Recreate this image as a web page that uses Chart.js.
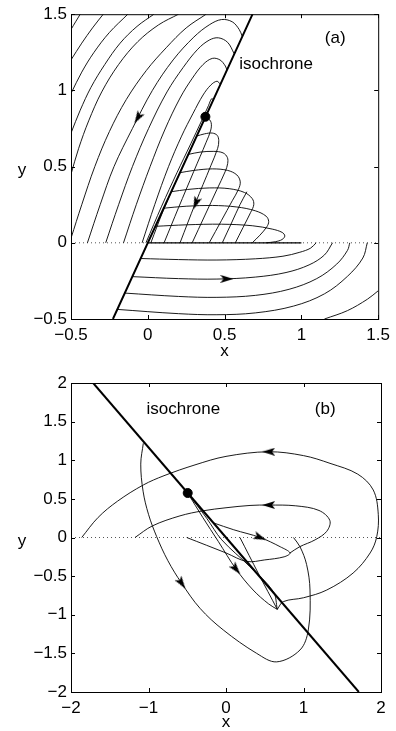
<!DOCTYPE html>
<html>
<head>
<meta charset="utf-8">
<script src="https://cdn.jsdelivr.net/npm/chart.js@4.4.0/dist/chart.umd.min.js"></script>
<style>
  html, body { margin: 0; padding: 0; background: #fff; }
  .wrap { position: absolute; left: 0; width: 396px; }
  #wrapA { top: 0; height: 365px; }
  #wrapB { top: 365px; height: 366px; }
</style>
</head>
<body>
<div class="wrap" id="wrapA"><canvas id="chartA"></canvas></div>
<div class="wrap" id="wrapB"><canvas id="chartB"></canvas></div>
<script>
// ---------- panel (a) ----------
const ticksAX = [-0.5, 0, 0.5, 1, 1.5];
const ticksAY = [-0.5, 0, 0.5, 1, 1.5];

const isoA = [[-0.227, -0.5], [0.682, 1.5]];
const dotA = [[0.375, 0.827]];
const zeroA = [[-0.5, 0], [1.5, 0]];
const slideA = [[0, 0], [1.0, 0]];

// left of the isochrone, above y = 0
const a_t1 = [[-0.5, 1.40], [-0.47, 1.45], [-0.44, 1.5]];
const a_t2 = [[-0.5, 1.2], [-0.43, 1.31], [-0.36, 1.41], [-0.29, 1.5]];
const a_t3 = [[-0.5, 0.98], [-0.43, 1.12], [-0.35, 1.25], [-0.25, 1.38], [-0.13, 1.5]];
const a_t4 = [[-0.5, 0.72], [-0.44, 0.87], [-0.37, 1.02], [-0.28, 1.17], [-0.18, 1.31], [-0.07, 1.42], [0.04, 1.5]];
const a_t5 = [[-0.5, 0.45], [-0.45, 0.62], [-0.385, 0.80], [-0.30, 0.99], [-0.19, 1.17], [-0.065, 1.32], [0.07, 1.43], [0.20, 1.5]];
const a_t6 = [[-0.5, 0.03], [-0.43, 0.25], [-0.345, 0.50], [-0.25, 0.73], [-0.14, 0.94], [-0.01, 1.13], [0.12, 1.28], [0.25, 1.41], [0.38, 1.5]];
const a_p1 = [[-0.393, 0], [-0.31, 0.25], [-0.22, 0.50], [-0.10, 0.75], [0.03, 1.0], [0.165, 1.2], [0.30, 1.35], [0.40, 1.43], [0.48, 1.465], [0.55, 1.45], [0.595, 1.40], [0.615, 1.355]];
const a_p2 = [[-0.274, 0], [-0.19, 0.25], [-0.10, 0.50], [0.005, 0.75], [0.125, 0.99], [0.23, 1.15], [0.325, 1.27], [0.40, 1.33], [0.46, 1.345], [0.52, 1.315], [0.563, 1.24]];
const a_p3 = [[-0.158, 0], [-0.075, 0.25], [0.015, 0.50], [0.11, 0.74], [0.21, 0.95], [0.29, 1.08], [0.36, 1.17], [0.42, 1.21], [0.47, 1.20], [0.505, 1.16], [0.515, 1.133]];
const a_p4 = [[-0.037, 0], [0.045, 0.25], [0.135, 0.50], [0.22, 0.70], [0.295, 0.85], [0.36, 0.97], [0.41, 1.035], [0.45, 1.06], [0.473, 1.04]];
const a_p5 = [[-0.012, 0], [0.09, 0.24], [0.19, 0.46], [0.28, 0.65], [0.35, 0.80], [0.395, 0.90], [0.415, 0.945], [0.428, 0.94]];

// right of the isochrone, above y = 0
const m_s0 = [[0.375, 0.827], [0.30, 0.66], [0.20, 0.44], [0.10, 0.21], [0.02, 0]];
const m_e0 = [[0.36, 0.79], [0.39, 0.815], [0.412, 0.79], [0.41, 0.74], [0.38, 0.66], [0.30, 0.47], [0.20, 0.23], [0.106, 0]];
const m_e1 = [[0.318, 0.70], [0.37, 0.715], [0.42, 0.72], [0.452, 0.705], [0.462, 0.67], [0.455, 0.62], [0.41, 0.505], [0.31, 0.26], [0.21, 0]];
const m_e2 = [[0.264, 0.58], [0.34, 0.595], [0.43, 0.60], [0.49, 0.59], [0.518, 0.56], [0.52, 0.52], [0.505, 0.47], [0.45, 0.35], [0.37, 0.176], [0.289, 0]];
const m_e3 = [[0.209, 0.46], [0.30, 0.475], [0.42, 0.485], [0.52, 0.475], [0.58, 0.445], [0.602, 0.40], [0.59, 0.35], [0.55, 0.276], [0.48, 0.147], [0.40, 0]];
const m_x1 = [[0.485, 0], [0.545, 0.13], [0.60, 0.25], [0.645, 0.335]];
const m_e4 = [[0.152, 0.335], [0.26, 0.35], [0.40, 0.36], [0.53, 0.355], [0.63, 0.33], [0.68, 0.29], [0.69, 0.25], [0.67, 0.20], [0.62, 0.10], [0.57, 0]];
const m_e5 = [[0.103, 0.227], [0.25, 0.24], [0.42, 0.245], [0.58, 0.235], [0.70, 0.21], [0.77, 0.175], [0.787, 0.14], [0.775, 0.105], [0.73, 0.05], [0.68, 0]];
const m_e6 = [[0.049, 0.108], [0.25, 0.118], [0.48, 0.122], [0.68, 0.112], [0.81, 0.09], [0.875, 0.068], [0.892, 0.045], [0.875, 0.022], [0.83, 0.007], [0.77, 0]];

// below y = 0
const c_1 = [[-0.047, -0.103], [0.2, -0.110], [0.45, -0.113], [0.7, -0.105], [0.88, -0.088], [0.99, -0.062], [1.06, -0.035], [1.096, 0]];
const c_2 = [[-0.101, -0.222], [0.2, -0.235], [0.45, -0.238], [0.7, -0.225], [0.9, -0.195], [1.05, -0.145], [1.15, -0.08], [1.203, 0]];
const c_3 = [[-0.15, -0.330], [0.2, -0.352], [0.45, -0.358], [0.7, -0.345], [0.92, -0.305], [1.1, -0.235], [1.23, -0.14], [1.30, -0.05], [1.315, 0]];
const c_4 = [[-0.199, -0.437], [0.2, -0.465], [0.45, -0.472], [0.7, -0.46], [0.95, -0.415], [1.15, -0.335], [1.3, -0.22], [1.40, -0.10], [1.429, 0]];
const c_5 = [[1.15, -0.5], [1.3, -0.445], [1.43, -0.37], [1.5, -0.315]];

const arrowsA = [[-0.065, 0.82], [0.515, -0.237], [0.313, 0.26]];

// ---------- panel (b) ----------
const ticksBX = [-2, -1, 0, 1, 2];
const ticksBY = [-2, -1.5, -1, -0.5, 0, 0.5, 1, 1.5, 2];

const isoB = [[-1.714, 2], [1.714, -2]];
const dotB = [[-0.494, 0.576]];
const zeroB = [[-2, 0], [2, 0]];

const b_outer = [[0.662, -0.93], [0.74, -0.83], [1.0, -0.78], [1.3, -0.68], [1.64, -0.46], [1.86, -0.2], [1.945, 0.01], [1.965, 0.3], [1.90, 0.615], [1.70, 0.82], [1.342, 0.96], [1.0, 1.06], [0.55, 1.11], [0.0, 1.05], [-0.4, 0.94], [-0.8, 0.80], [-1.067, 0.68], [-1.4, 0.47], [-1.65, 0.26], [-1.862, 0.0]];
const b_dotline = [[-0.494, 0.576], [-0.3, 0.26], [-0.1, -0.05], [0.13, -0.41], [0.35, -0.68], [0.55, -0.86], [0.662, -0.93]];
const b_narrow = [[-0.494, 0.576], [-0.25, 0.25], [-0.055, -0.03], [0.30, -0.37], [0.61, -0.70], [0.662, -0.93]];
const b_v = [[0.18, 0], [0.42, -0.47], [0.662, -0.93]];
const b_inner = [[0.826, -0.2], [0.95, -0.12], [1.15, -0.03], [1.30, 0.08], [1.34, 0.22], [1.2, 0.35], [0.9, 0.41], [0.55, 0.42], [0.31, 0.415], [0.0, 0.385], [-0.3, 0.345], [-0.594, 0.28], [-0.95, 0.15], [-1.174, 0]];
const b_hook = [[-0.164, 0.19], [0.1, 0.10], [0.44, 0.0], [0.7, -0.12], [0.826, -0.20], [0.75, -0.25], [0.5, -0.29], [0.267, -0.31], [0.0, -0.2], [-0.507, 0]];
const b_tall = [[-1.067, 1.22], [-1.10, 0.95], [-1.07, 0.6], [-1.0, 0.3], [-0.894, 0.01], [-0.75, -0.3], [-0.572, -0.593], [-0.335, -0.917], [-0.035, -1.197], [0.396, -1.50], [0.654, -1.61], [0.955, -1.456], [1.062, -1.197], [1.084, -0.68], [1.04, -0.35], [0.955, -0.12], [0.87, 0.0]];

const arrowsB = [[0.55, 1.11], [0.55, 0.42], [0.44, 0.0], [0.13, -0.41], [-0.572, -0.593]];

// ---------- drawing ----------
const FONT = '"Liberation Sans", Arial, Helvetica, sans-serif';

function pts(arr) { return arr.map(p => ({ x: p[0], y: p[1] })); }

function curve(arr, width) {
  return { data: pts(arr), showLine: true, borderColor: '#000', borderWidth: width || 0.9,
           pointRadius: 0, tension: 0.35, fill: false };
}

function arrowHead() {
  const c = document.createElement('canvas');
  c.width = 8; c.height = 13;
  const g = c.getContext('2d');
  g.fillStyle = '#000';
  g.beginPath();
  g.moveTo(4, 0); g.lineTo(8, 13); g.lineTo(4, 10); g.lineTo(0, 13);
  g.closePath(); g.fill();
  return c;
}
const HEAD = arrowHead();

function arrows(arr, angles) {
  return { data: pts(arr), showLine: false, pointStyle: HEAD, rotation: angles, pointRadius: 6 };
}

function dot(arr) {
  return { data: pts(arr), showLine: false, pointStyle: 'circle', pointRadius: 4.5,
           backgroundColor: '#000', borderColor: '#000' };
}

function fmt(v) { return v < 0 ? '\u2212' + Math.abs(v) : String(v); }

const framePlugin = {
  id: 'frame',
  afterDraw(chart, args, opts) {
    const { ctx, chartArea: a, scales } = chart;
    ctx.save();
    ctx.strokeStyle = '#000';
    ctx.lineWidth = 1;
    ctx.strokeRect(a.left + 0.5, a.top + 0.5, a.right - a.left, a.bottom - a.top);
    ctx.beginPath();
    opts.xt.forEach(v => {
      const px = Math.round(scales.x.getPixelForValue(v)) + 0.5;
      ctx.moveTo(px, a.bottom); ctx.lineTo(px, a.bottom - 4);
      ctx.moveTo(px, a.top); ctx.lineTo(px, a.top + 4);
    });
    opts.yt.forEach(v => {
      const py = Math.round(scales.y.getPixelForValue(v)) + 0.5;
      ctx.moveTo(a.left, py); ctx.lineTo(a.left + 4, py);
      ctx.moveTo(a.right, py); ctx.lineTo(a.right - 4, py);
    });
    ctx.stroke();
    ctx.fillStyle = '#000';
    ctx.font = '17px ' + FONT;
    ctx.textAlign = 'center';
    ctx.textBaseline = 'middle';
    (opts.notes || []).forEach(n => {
      ctx.fillText(n.text, scales.x.getPixelForValue(n.x), scales.y.getPixelForValue(n.y));
    });
    ctx.fillText('x', (a.left + a.right) / 2, a.bottom + opts.xLabelGap);
    ctx.fillText('y', 22, (a.top + a.bottom) / 2 + 4);
    ctx.restore();
  }
};

function axis(min, max, ticks, isY, size) {
  return {
    type: 'linear', min: min, max: max,
    afterBuildTicks: s => { s.ticks = ticks.map(v => ({ value: v })); },
    afterFit: s => { if (isY) s.width = size; else s.height = size; },
    grid: { display: false, drawTicks: false },
    border: { display: false },
    ticks: { autoSkip: false, maxRotation: 0, color: '#000', padding: isY ? 4 : 6,
             font: { family: FONT, size: 17 }, callback: v => fmt(v) }
  };
}

function build(id, datasets, layout, xs, ys, frame) {
  return new Chart(document.getElementById(id), {
    type: 'scatter',
    data: { datasets: datasets },
    options: {
      responsive: true, maintainAspectRatio: false, animation: false,
      layout: { padding: layout },
      plugins: { legend: { display: false }, tooltip: { enabled: false }, frame: frame },
      scales: { x: xs, y: ys }
    },
    plugins: [framePlugin]
  });
}

const dotted = arr => ({ data: pts(arr), showLine: true, borderColor: '#555', borderWidth: 1,
                         borderDash: [1, 3], pointRadius: 0 });

build('chartA', [
  dot(dotA),
  arrows(arrowsA, [211, 90, 201]),
  curve(isoA, 2),
  curve(a_t1), curve(a_t2), curve(a_t3), curve(a_t4), curve(a_t5), curve(a_t6),
  curve(a_p1), curve(a_p2), curve(a_p3), curve(a_p4), curve(a_p5),
  curve(m_s0), curve(m_e0), curve(m_e1), curve(m_e2), curve(m_e3), curve(m_x1),
  curve(m_e4), curve(m_e5), curve(m_e6),
  curve(c_1), curve(c_2), curve(c_3), curve(c_4), curve(c_5),
  curve(slideA, 1.2),
  dotted(zeroA)
], { left: 0, top: 10, right: 15, bottom: 0 },
  axis(-0.5, 1.5, ticksAX, false, 46), axis(-0.5, 1.5, ticksAY, true, 71),
  { xt: ticksAX, yt: ticksAY, xLabelGap: 32,
    notes: [{ text: 'isochrone', x: 0.835, y: 1.17 }, { text: '(a)', x: 1.22, y: 1.34 }] });

build('chartB', [
  dot(dotB),
  arrows(arrowsB, [270, 270, 112, 141, 146]),
  curve(isoB, 2),
  curve(b_outer), curve(b_dotline), curve(b_narrow), curve(b_v), curve(b_inner), curve(b_hook), curve(b_tall),
  dotted(zeroB)
], { left: 0, top: 18, right: 15, bottom: 0 },
  axis(-2, 2, ticksBX, false, 39), axis(-2, 2, ticksBY, true, 71),
  { xt: ticksBX, yt: ticksBY, xLabelGap: 30,
    notes: [{ text: 'isochrone', x: -0.55, y: 1.66 }, { text: '(b)', x: 1.28, y: 1.66 }] });
</script>
</body>
</html>
